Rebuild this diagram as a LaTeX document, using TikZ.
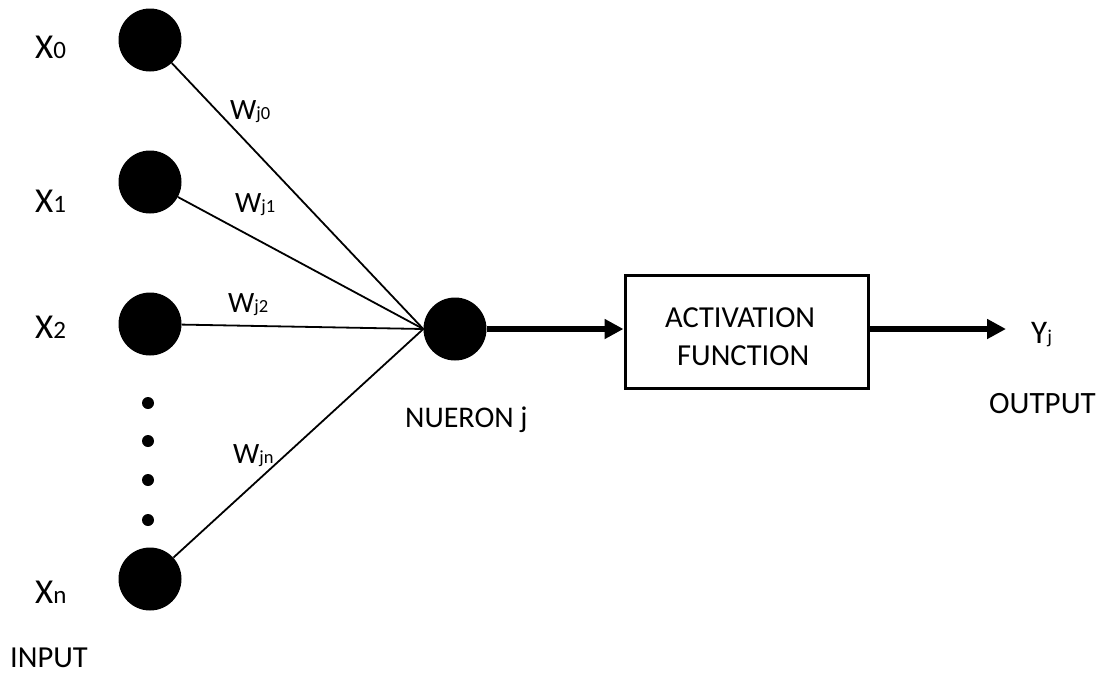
\documentclass[tikz,border=0pt]{standalone}
\usepackage{fontspec}
\setmainfont{Carlito}
\usetikzlibrary{arrows.meta}
\newcommand\fs[2]{{\fontsize{#1}{#1}\selectfont #2}}
\begin{document}
\begin{tikzpicture}[x=1pt,y=-1pt,
  dotnode/.style={circle,fill=black,minimum size=63pt,inner sep=0pt},
  smalldot/.style={circle,fill=black,minimum size=12pt,inner sep=0pt},
  wire/.style={line width=1.8pt},
  bigarrow/.style={line width=5.5pt,-{Triangle[length=19pt,width=19pt]}},
  txt/.style={inner sep=0pt,anchor=base west}]
\useasboundingbox (0,0) rectangle (1104,673);
% inputs
\node[dotnode] (x0) at (150,40) {};
\node[dotnode] (x1) at (150,182) {};
\node[dotnode] (x2) at (150,324) {};
\node[dotnode] (xn) at (150,579) {};
\node[smalldot] (d1) at (148,403) {};
\node[smalldot] (d2) at (148,441) {};
\node[smalldot] (d3) at (148,480) {};
\node[smalldot] (d4) at (148,520) {};
% neuron
\node[dotnode] (nj) at (455,329) {};
\coordinate (conv) at (nj.west);
\draw[wire] (x0) -- (conv);
\draw[wire] (x1) -- (conv);
\draw[wire] (x2) -- (conv);
\draw[wire] (xn) -- (conv);
% box
\node[draw,line width=3pt,minimum width=243pt,minimum height=113pt,inner sep=0pt] (af) at (746.5,331.5) {};
\node[txt] (t1) at (665,327) {\fs{30.5pt}{ACTIVATION}};
\node[txt] (t2) at (677,365) {\fs{30.5pt}{FUNCTION}};
\coordinate (yend) at (1006,329);
\draw[bigarrow] (nj.east) -- (af.west |- nj.east);
\draw[bigarrow] (af.east |- nj.east) -- (yend);
% labels
\node[txt] (lx0) at (35,58) {\fs{35pt}{X}\fs{25pt}{0}};
\node[txt] (lx1) at (35,212) {\fs{35pt}{X}\fs{25pt}{1}};
\node[txt] (lx2) at (35,338) {\fs{35pt}{X}\fs{25pt}{2}};
\node[txt] (lxn) at (35,603) {\fs{35pt}{X}\fs{25pt}{n}};
\node[txt] (lin) at (10,667) {\fs{30.5pt}{INPUT}};
\node[txt] (w0) at (230,119) {\fs{29.5pt}{W}\fs{18.5pt}{j0}};
\node[txt] (w1) at (235,212) {\fs{29.5pt}{W}\fs{18.5pt}{j1}};
\node[txt] (w2) at (228,312) {\fs{29.5pt}{W}\fs{18.5pt}{j2}};
\node[txt] (wn) at (233,463) {\fs{29.5pt}{W}\fs{18.5pt}{jn}};
\node[txt] (ln) at (405,427) {\fs{30pt}{NUERON j}};
\node[txt] (ly) at (1031,343) {\fs{33pt}{Y}\fs{19.5pt}{j}};
\node[txt] (lo) at (989,413) {\fs{31pt}{OUTPUT}};
\end{tikzpicture}
\end{document}
